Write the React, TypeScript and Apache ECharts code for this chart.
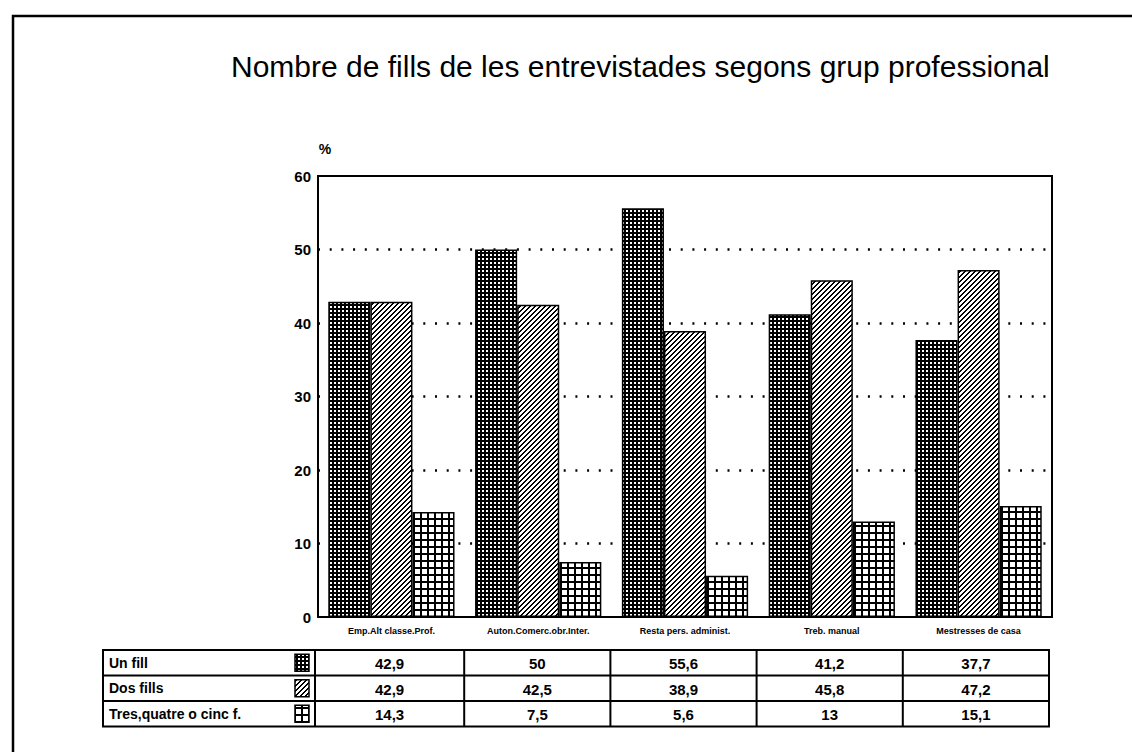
import React, { useEffect, useRef } from 'react';
import * as echarts from 'echarts';

const categories = [
  'Emp.Alt classe.Prof.',
  'Auton.Comerc.obr.Inter.',
  'Resta pers. administ.',
  'Treb. manual',
  'Mestresses de casa',
];
const seriesNames = ['Un fill', 'Dos fills', 'Tres,quatre o cinc f.'];
const unFill = [42.9, 50, 55.6, 41.2, 37.7];
const dosFills = [42.9, 42.5, 38.9, 45.8, 47.2];
const tresFills = [14.3, 7.5, 5.6, 13, 15.1];
const yMin = 0;
const yMax = 60;
const yStep = 10;
const titleText = 'Nombre de fills de les entrevistades segons grup professional';
const yName = '%';

const FONT = '"Liberation Sans", Arial, Helvetica, sans-serif';

function makePattern(size: number, ink: (x: number, y: number) => boolean) {
  const cv = document.createElement('canvas');
  cv.width = size;
  cv.height = size;
  const ctx = cv.getContext('2d')!;
  ctx.fillStyle = '#fff';
  ctx.fillRect(0, 0, size, size);
  ctx.fillStyle = '#000';
  for (let x = 0; x < size; x++) {
    for (let y = 0; y < size; y++) {
      if (ink(x, y)) ctx.fillRect(x, y, 1, 1);
    }
  }
  return { image: cv.toDataURL(), repeat: 'repeat', imageWidth: size, imageHeight: size } as any;
}

const fmt = (v: number) => String(v).replace('.', ',');

export default function App() {
  const ref = useRef<HTMLDivElement>(null);
  useEffect(() => {
    const chart = echarts.init(ref.current!, null, { renderer: 'svg' });
    const patterns = [
      makePattern(4, (x, y) => x < 2 || y < 2 ),
      makePattern(5, (x, y) => (x + y) % 5 === 0 || (x + y) % 5 === 1),
      makePattern(7, (x, y) => x < 2 || y < 2),
    ];
    const seriesData = [unFill, dosFills, tresFills];

    chart.setOption({
      animation: false,
      backgroundColor: '#fff',
      title: {
        text: titleText,
        left: 226,
        top: 46,
        textStyle: { fontFamily: FONT, fontSize: 30, fontWeight: 'normal', color: '#000' },
      },
      grid: {
        left: 318,
        right: 80,
        top: 176,
        bottom: 135,
        show: true,
        borderColor: '#000',
        borderWidth: 2,
        backgroundColor: '#fff',
        containLabel: false,
      },
      xAxis: {
        type: 'category',
        data: categories,
        axisLine: { show: true, lineStyle: { color: '#000', width: 2 } },
        axisTick: { show: false },
        axisLabel: {
          interval: 0,
          margin: 9,
          color: '#000',
          fontFamily: FONT,
          fontSize: 9,
          fontWeight: 'bold',
        },
        splitLine: { show: false },
      },
      yAxis: {
        type: 'value',
        min: yMin,
        max: yMax,
        interval: yStep,
        name: yName,
        nameLocation: 'end',
        nameGap: 20,
        nameTextStyle: { color: '#000', fontFamily: FONT, fontSize: 14, fontWeight: 'bold', padding: [0, 0, 0, 14] },
        axisLine: { show: true, lineStyle: { color: '#000', width: 2 } },
        axisTick: { show: false },
        axisLabel: { color: '#000', fontFamily: FONT, fontSize: 15, fontWeight: 'bold', margin: 7 },
        splitLine: {
          show: true,
          showMinLine: false,
          showMaxLine: false,
          lineStyle: { color: '#000', width: 2.5, type: [2, 9.7] },
        },
      },
      series: seriesNames.map((name, i) => ({
        name,
        type: 'bar',
        data: seriesData[i],
        barGap: '0%',
        barCategoryGap: '14%',
        itemStyle: { color: patterns[i], borderColor: '#000', borderWidth: 1.5 },
        emphasis: { disabled: true },
      })),
    });

    // Table layout derived from the category axis
    const centers = categories.map((c) => chart.convertToPixel({ xAxisIndex: 0 }, c) as number);
    const bw = centers[1] - centers[0];
    const edges = centers.map((c) => c - bw / 2);
    edges.push(centers[centers.length - 1] + bw / 2);
    const tableLeft = 103;
    const tableTop = 650;
    const rowH = 25.5;
    const tableRight = edges[edges.length - 1] - 3;
    const tableBottom = tableTop + rowH * seriesNames.length;
    const lineStyle = { stroke: '#000', lineWidth: 2 };

    const graphic: any[] = [];
    graphic.push({
      type: 'rect',
      shape: { x: 13, y: 16, width: 1200, height: 800 },
      style: { fill: 'rgba(0,0,0,0)', stroke: '#000', lineWidth: 2.5 },
      silent: true,
    });
    graphic.push({
      type: 'rect',
      shape: { x: tableLeft, y: tableTop, width: tableRight - tableLeft, height: tableBottom - tableTop },
      style: { fill: 'rgba(0,0,0,0)', ...lineStyle },
      silent: true,
    });
    for (let r = 1; r < seriesNames.length; r++) {
      const y = tableTop + rowH * r;
      graphic.push({ type: 'line', shape: { x1: tableLeft, y1: y, x2: tableRight, y2: y }, style: lineStyle, silent: true });
    }
    const colXs = edges.slice(0, edges.length - 1).map((e, i) => (i === 0 ? e - 3 : e - (3 * i) / (edges.length - 1)));
    colXs.forEach((x) => {
      graphic.push({ type: 'line', shape: { x1: x, y1: tableTop, x2: x, y2: tableBottom }, style: lineStyle, silent: true });
    });
    const colBounds = [...colXs, tableRight];
    seriesNames.forEach((name, r) => {
      const yMid = tableTop + rowH * r + rowH / 2;
      graphic.push({
        type: 'text',
        x: tableLeft + 6,
        y: yMid,
        style: { text: name, fill: '#000', font: `bold 14px ${FONT}`, align: 'left', verticalAlign: 'middle' },
        silent: true,
      });
      graphic.push({
        type: 'rect',
        shape: { x: colXs[0] - 20, y: yMid - 8.5, width: 14, height: 17 },
        style: { fill: patterns[r], stroke: '#000', lineWidth: 1.5 },
        silent: true,
      });
      seriesData[r].forEach((v, c) => {
        graphic.push({
          type: 'text',
          x: (colBounds[c] + colBounds[c + 1]) / 2,
          y: yMid + 1,
          style: { text: fmt(v), fill: '#000', font: `bold 15px ${FONT}`, align: 'center', verticalAlign: 'middle' },
          silent: true,
        });
      });
    });
    chart.setOption({ graphic });

    return () => chart.dispose();
  }, []);
  return (
    <div
      ref={ref}
      style={{ position: 'fixed', left: 0, top: 0, width: 1132, height: 752, background: '#fff' }}
    />
  );
}
